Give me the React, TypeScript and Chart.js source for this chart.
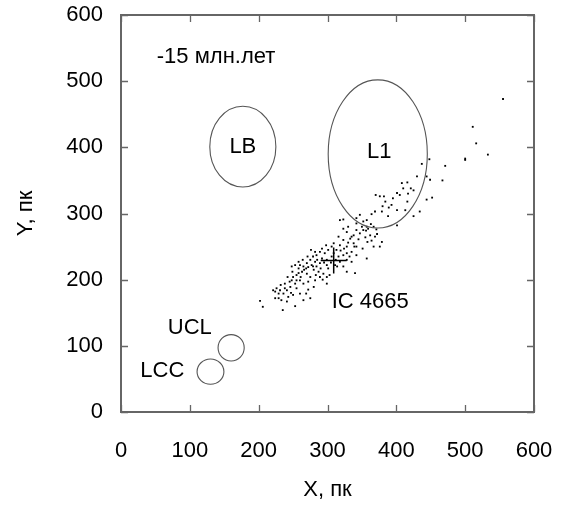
import React, { useEffect, useRef } from 'react';
import { Chart, registerables } from 'chart.js';

Chart.register(...registerables);

const xTicks = [0, 100, 200, 300, 400, 500, 600];
const yTicks = [0, 100, 200, 300, 400, 500, 600];

// Stars of the IC 4665 group (X, Y in pc)
const starPoints: [number, number][] = [
  [555, 473], [511, 431], [516, 406], [533, 389], [500, 381], [500, 383], [471, 372], [448, 382],
  [437, 375], [444, 356], [449, 351], [467, 350], [408, 346], [416, 347], [410, 338], [421, 338],
  [417, 330], [401, 331], [395, 323], [370, 328], [376, 326], [382, 326], [416, 318], [452, 324],
  [444, 321], [380, 311], [389, 309], [401, 305], [379, 303], [364, 299], [388, 296], [425, 296],
  [401, 282], [357, 290], [352, 288], [342, 285], [323, 291], [318, 290], [357, 280], [359, 277],
  [367, 280], [352, 275], [342, 275], [328, 272], [338, 267], [347, 270], [362, 267], [372, 269],
  [369, 265], [379, 257], [376, 250], [364, 259], [355, 264], [333, 262], [323, 260], [316, 265],
  [309, 255], [318, 252], [328, 250], [338, 255], [342, 250], [335, 242], [328, 240], [313, 245],
  [309, 240], [301, 245], [296, 240], [289, 242], [284, 237], [292, 232], [299, 230], [306, 235],
  [316, 235], [323, 237], [318, 227], [328, 230], [357, 232], [311, 222], [299, 222], [289, 225],
  [282, 227], [277, 222], [275, 230], [270, 225], [265, 220], [260, 222], [280, 215], [287, 212],
  [294, 209], [299, 204], [289, 204], [282, 199], [275, 204], [270, 209], [263, 212], [258, 217],
  [255, 207], [260, 199], [265, 194], [272, 197], [253, 194], [248, 199], [246, 189], [255, 187],
  [241, 184], [236, 179], [231, 184], [224, 182], [221, 184], [243, 174], [250, 177], [260, 179],
  [275, 172], [265, 169], [233, 169], [229, 172], [202, 168], [206, 159], [235, 154], [253, 160],
  [340, 210], [224, 172], [229, 179], [238, 187], [245, 197], [250, 204], [258, 210], [266, 215],
  [272, 219], [279, 220], [284, 220], [290, 217], [295, 226], [301, 217], [305, 226], [312, 230],
  [319, 244], [324, 247], [330, 256], [335, 265], [345, 261], [350, 280], [356, 274], [363, 284],
  [371, 276], [339, 250], [332, 235], [306, 250], [298, 252], [292, 247], [285, 230], [279, 235],
  [271, 235], [269, 217], [261, 204], [255, 199], [249, 212], [242, 204], [238, 194], [232, 192],
  [226, 187], [258, 227], [264, 230], [282, 242], [276, 245], [248, 220], [253, 222], [283, 207],
  [293, 200], [303, 207], [314, 220], [323, 220], [335, 227], [342, 237], [351, 247], [358, 257],
  [367, 250], [328, 212], [299, 194], [241, 167], [247, 180], [269, 179], [280, 189], [272, 185],
  [323, 277], [330, 280], [342, 293], [347, 298], [369, 303], [384, 318], [393, 313], [405, 328],
  [425, 335], [434, 303], [430, 356], [413, 305],
];

const clusterCenter: [number, number][] = [[309, 229]];

// Ellipses of groups
const regionCx = [177, 373, 160, 130];
const regionCy = [401, 390, 97, 61];
const regionRx = [48, 72, 19, 19.5];
const regionRy = [61, 112, 20, 19];

// Text annotations
const labelTexts = ['LB', 'L1', 'UCL', 'LCC', 'IC 4665', '-15 млн.лет'];
const labelX = [177, 375, 100, 60, 362, 52];
const labelY = [401, 393, 127, 62, 166, 536];
const labelAlign: CanvasTextAlign[] = ['center', 'center', 'center', 'center', 'center', 'left'];

const FONT = '"Liberation Sans", Arial, sans-serif';

const overlayPlugin = {
  id: 'overlay',
  afterDatasetsDraw(chart: any) {
    const { ctx, chartArea, scales } = chart;
    const xs = scales.x;
    const ys = scales.y;
    ctx.save();
    // ellipses
    ctx.strokeStyle = '#555555';
    ctx.lineWidth = 1.1;
    for (let i = 0; i < regionCx.length; i++) {
      const cx = xs.getPixelForValue(regionCx[i]);
      const cy = ys.getPixelForValue(regionCy[i]);
      const rx = Math.abs(xs.getPixelForValue(regionCx[i] + regionRx[i]) - cx);
      const ry = Math.abs(ys.getPixelForValue(regionCy[i] + regionRy[i]) - cy);
      ctx.beginPath();
      ctx.ellipse(cx, cy, rx, ry, 0, 0, Math.PI * 2);
      ctx.stroke();
    }
    // labels
    ctx.fillStyle = '#000';
    ctx.font = `22px ${FONT}`;
    ctx.textBaseline = 'middle';
    for (let i = 0; i < labelTexts.length; i++) {
      ctx.textAlign = labelAlign[i];
      ctx.fillText(labelTexts[i], xs.getPixelForValue(labelX[i]), ys.getPixelForValue(labelY[i]));
    }
    // frame
    const { left, right, top, bottom } = chartArea;
    ctx.strokeStyle = '#666666';
    ctx.lineWidth = 2;
    ctx.strokeRect(left, top, right - left, bottom - top);
    // inward ticks
    const tl = 7;
    ctx.lineWidth = 1.3;
    ctx.beginPath();
    for (const v of xTicks) {
      const px = Math.round(xs.getPixelForValue(v)) + 0.5;
      ctx.moveTo(px, bottom);
      ctx.lineTo(px, bottom - tl);
      ctx.moveTo(px, top);
      ctx.lineTo(px, top + tl);
    }
    for (const v of yTicks) {
      const py = Math.round(ys.getPixelForValue(v)) + 0.5;
      ctx.moveTo(left, py);
      ctx.lineTo(left + tl, py);
      ctx.moveTo(right, py);
      ctx.lineTo(right - tl, py);
    }
    ctx.stroke();
    ctx.restore();
  },
};

export default function App() {
  const canvasRef = useRef<HTMLCanvasElement | null>(null);

  useEffect(() => {
    const canvas = canvasRef.current;
    if (!canvas) return;
    const chart = new Chart(canvas, {
      type: 'scatter',
      data: {
        datasets: [
          {
            label: 'stars',
            data: starPoints.map(([x, y]) => ({ x, y })),
            pointRadius: 1.3,
            pointStyle: 'rect',
            backgroundColor: '#000',
            borderWidth: 0,
          },
          {
            label: 'center',
            data: clusterCenter.map(([x, y]) => ({ x, y })),
            pointStyle: 'cross',
            pointRadius: 13,
            borderColor: '#000',
            borderWidth: 1.5,
            backgroundColor: '#000',
          },
        ],
      },
      options: {
        responsive: false,
        animation: false,
        events: [],
        layout: { padding: { left: 0, top: 15, right: 29, bottom: 0 } },
        plugins: { legend: { display: false }, tooltip: { enabled: false } },
        scales: {
          x: {
            type: 'linear',
            min: 0,
            max: 600,
            afterBuildTicks: (s: any) => {
              s.ticks = xTicks.map((v) => ({ value: v }));
            },
            afterFit: (s: any) => {
              s.height = 105;
              s.paddingLeft = 0;
              s.paddingRight = 0;
              s.paddingTop = 0;
              s.paddingBottom = 0;
            },
            ticks: { color: '#000', font: { family: FONT, size: 22 }, padding: 26, maxRotation: 0 },
            grid: { display: false, drawTicks: false },
            border: { display: false },
            title: {
              display: true,
              text: 'X, пк',
              color: '#000',
              font: { family: FONT, size: 22 },
              padding: { top: 0, bottom: 14 },
            },
          },
          y: {
            type: 'linear',
            min: 0,
            max: 600,
            afterBuildTicks: (s: any) => {
              s.ticks = yTicks.map((v) => ({ value: v }));
            },
            afterFit: (s: any) => {
              s.width = 121;
              s.paddingLeft = 0;
              s.paddingRight = 0;
              s.paddingTop = 0;
              s.paddingBottom = 0;
            },
            ticks: { color: '#000', font: { family: FONT, size: 22 }, padding: 18 },
            grid: { display: false, drawTicks: false },
            border: { display: false },
            title: {
              display: true,
              text: 'Y, пк',
              color: '#000',
              font: { family: FONT, size: 22 },
              padding: { top: 13, bottom: 0 },
            },
          },
        },
      },
      plugins: [overlayPlugin],
    });
    return () => chart.destroy();
  }, []);

  return (
    <div style={{ position: 'fixed', left: 0, top: 0, width: 563, height: 517, background: '#fff' }}>
      <canvas ref={canvasRef} width={563} height={517} />
    </div>
  );
}
